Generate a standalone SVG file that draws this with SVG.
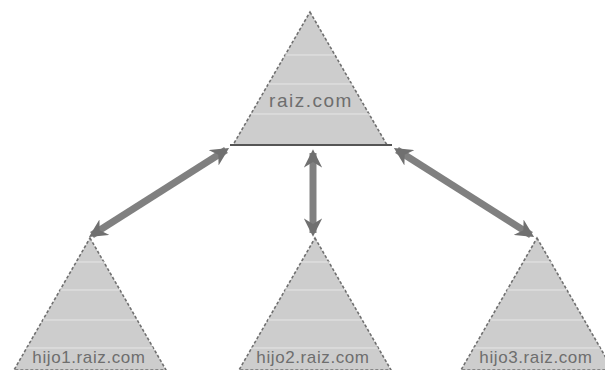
<svg xmlns="http://www.w3.org/2000/svg" width="605" height="370" viewBox="0 0 605 370">
<style>
.tri{fill:#cdcdcd;stroke:#707070;stroke-width:1.6;stroke-dasharray:3 2}
.band{stroke:#e6e6e6;stroke-width:1}
.lbl{font-family:"Liberation Sans",Arial,sans-serif;font-size:17px;fill:#6e6e6e;text-anchor:middle;letter-spacing:0.6px}
.top{font-size:19px;letter-spacing:1.5px}
.arr{stroke:#808080;stroke-width:7;fill:none;marker-start:url(#h);marker-end:url(#h)}
</style>
<defs>
<marker id="h" viewBox="0 0 10 10" refX="8" refY="5" markerWidth="2.6" markerHeight="2.6" orient="auto-start-reverse" markerUnits="strokeWidth">
<path d="M0,0 L10,5 L0,10 L3,5 Z" fill="#707070"/>
</marker>
</defs>
<rect width="605" height="370" fill="#ffffff"/>
<g id="raiz">
<polygon class="tri" points="310,12 387,145 233,145"/>
<line class="band" x1="285" y1="55" x2="335" y2="55"/>
<line class="band" x1="268" y1="84" x2="352" y2="84"/>
<line class="band" x1="251" y1="114" x2="369" y2="114"/>
<line x1="230" y1="145" x2="392" y2="145" stroke="#555" stroke-width="2"/>
<text class="lbl top" x="311" y="107">raiz.com</text>
</g>
<g id="hijo1">
<polygon class="tri" points="90,238 166,370 14,370"/>
<line class="band" x1="76" y1="262" x2="104" y2="262"/>
<line class="band" x1="60" y1="290" x2="120" y2="290"/>
<line class="band" x1="43" y1="320" x2="137" y2="320"/>
<line class="band" x1="27" y1="348" x2="153" y2="348"/>
<text class="lbl" x="89" y="363">hijo1.raiz.com</text>
</g>
<g id="hijo2">
<polygon class="tri" points="315,238 391,370 239,370"/>
<line class="band" x1="301" y1="262" x2="329" y2="262"/>
<line class="band" x1="285" y1="290" x2="345" y2="290"/>
<line class="band" x1="268" y1="320" x2="362" y2="320"/>
<line class="band" x1="252" y1="348" x2="378" y2="348"/>
<text class="lbl" x="313" y="363">hijo2.raiz.com</text>
</g>
<g id="hijo3">
<polygon class="tri" points="537,238 613,370 461,370"/>
<line class="band" x1="523" y1="262" x2="551" y2="262"/>
<line class="band" x1="507" y1="290" x2="567" y2="290"/>
<line class="band" x1="490" y1="320" x2="584" y2="320"/>
<line class="band" x1="474" y1="348" x2="600" y2="348"/>
<text class="lbl" x="536" y="363">hijo3.raiz.com</text>
</g>
<g id="connectors">
<line class="arr" x1="226" y1="150" x2="92" y2="235"/>
<line class="arr" x1="313" y1="153" x2="313" y2="233"/>
<line class="arr" x1="397" y1="150" x2="531" y2="235"/>
</g>
</svg>
